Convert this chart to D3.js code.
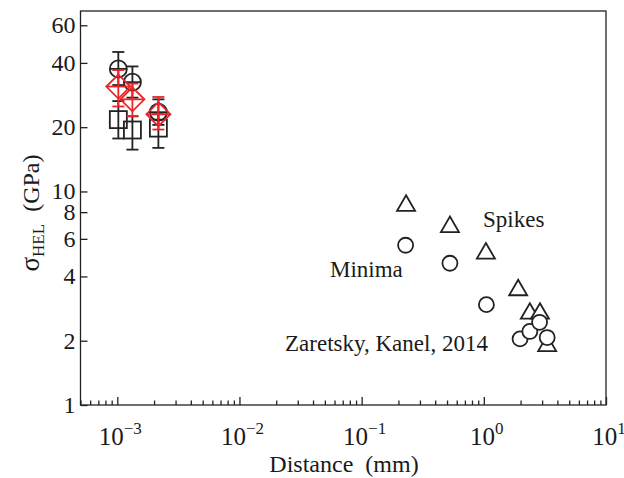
<!DOCTYPE html>
<html>
<head>
<meta charset="utf-8">
<script src="https://cdn.jsdelivr.net/npm/d3@7"></script>
<style>
  body { margin: 0; background: white; }
  svg text { font-family: "Liberation Serif", "Times New Roman", serif; fill: #1a1a1a; }
</style>
</head>
<body>
<svg id="chart" width="624" height="478"></svg>
<script>
// thin-film / short-distance data (three distances, three series with error bars)
const filmDist = [1.02e-3, 1.33e-3, 2.17e-3];
const circleVal = [37.5, 32.5, 23.5];
const circleLo = [31.5, 27.5, 20.5];
const circleHi = [45, 38.5, 27];
const diamondVal = [31, 27, 23];
const diamondLo = [25, 22.5, 19.5];
const diamondHi = [37, 32, 27.7];
const squareVal = [21.7, 19.4, 19.8];
const squareLo = [17.7, 15.7, 16];
const squareHi = [26.5, 22.5, 23];

// Zaretsky, Kanel 2014
const spikeDist = [0.231, 0.528, 1.04, 1.91, 2.38, 2.88, 3.3];
const spikeVal = [8.8, 7.0, 5.26, 3.54, 2.75, 2.75, 1.94];
const minDist = [0.229, 0.528, 1.05, 1.98, 2.38, 2.86, 3.3];
const minVal = [5.6, 4.61, 2.95, 2.04, 2.21, 2.44, 2.07];

const yTicks = [1, 2, 4, 6, 8, 10, 20, 40, 60];
const xMajor = [1e-3, 1e-2, 1e-1, 1, 10];
const xExp = ["\u22123", "\u22122", "\u22121", "0", "1"];

const svg = d3.select("#chart");
const margin = { top: 11, right: 18, bottom: 73, left: 80.5 };
const width = 624, height = 478;
const x = d3.scaleLog().domain([5e-4, 10]).range([margin.left, width - margin.right]);
const y = d3.scaleLog().domain([1, 70]).range([height - margin.bottom, margin.top]);

const xMinor = [];
for (let e = -4; e <= 0; e++) {
    for (let m = 2; m <= 9; m++) {
        const v = m * Math.pow(10, e);
        if (v >= 5e-4 && v <= 10) xMinor.push(v);
    }
}

// frame
svg.append("rect")
    .attr("x", margin.left).attr("y", margin.top)
    .attr("width", x.range()[1] - margin.left)
    .attr("height", y.range()[0] - margin.top)
    .attr("fill", "none").attr("stroke", "#222").attr("stroke-width", 1.3);

// axes with inward ticks
const bottom = y.range()[0];
svg.append("g")
    .attr("transform", `translate(0, ${bottom})`)
    .call(d3.axisBottom(x).tickValues(xMajor).tickSize(-8).tickFormat(""))
    .call(g => g.select(".domain").remove())
    .call(g => g.selectAll("line").attr("stroke", "#222").attr("stroke-width", 1.3));
svg.append("g")
    .attr("transform", `translate(0, ${bottom})`)
    .call(d3.axisBottom(x).tickValues(xMinor).tickSize(-4.5).tickFormat(""))
    .call(g => g.select(".domain").remove())
    .call(g => g.selectAll("line").attr("stroke", "#222").attr("stroke-width", 1.3));
svg.append("g")
    .attr("transform", `translate(${margin.left}, 0)`)
    .call(d3.axisLeft(y).tickValues(yTicks).tickSize(-7).tickFormat(""))
    .call(g => g.select(".domain").remove())
    .call(g => g.selectAll("line").attr("stroke", "#222").attr("stroke-width", 1.3));

// tick labels
svg.append("g").selectAll("text")
    .data(yTicks)
    .enter().append("text")
    .attr("x", margin.left - 5)
    .attr("y", d => y(d) + 8)
    .attr("text-anchor", "end")
    .style("font-size", "24px")
    .text(d => d);

const xl = svg.append("g").selectAll("text")
    .data(xMajor)
    .enter().append("text")
    .attr("x", d => x(d) + 3)
    .attr("y", 445)
    .attr("text-anchor", "middle")
    .style("font-size", "25px");
xl.append("tspan").text("10");
xl.append("tspan").attr("dy", -11).style("font-size", "17px").text((d, i) => xExp[i]);

// axis titles
svg.append("text")
    .attr("x", 344)
    .attr("y", 472)
    .attr("text-anchor", "middle")
    .style("font-size", "24px")
    .text("Distance\u2002(mm)");

const yt = svg.append("text")
    .attr("transform", "translate(39, 213) rotate(-90)")
    .attr("text-anchor", "middle")
    .style("font-size", "24px");
yt.append("tspan").style("font-size", "27px").text("\u03c3");
yt.append("tspan").attr("dy", 5).style("font-size", "17px").text("HEL");
yt.append("tspan").attr("dy", -5).text("\u2002(GPa)");

// error bars helper
function errorBars(vals, lo, hi, color) {
    const g = svg.append("g").attr("stroke", color).attr("stroke-width", 1.8).attr("fill", "none");
    filmDist.forEach((d, i) => {
        const cx = x(d);
        g.append("line").attr("x1", cx).attr("x2", cx).attr("y1", y(lo[i])).attr("y2", y(hi[i]));
        [lo[i], hi[i]].forEach(v => {
            g.append("line").attr("x1", cx - 6).attr("x2", cx + 6).attr("y1", y(v)).attr("y2", y(v));
        });
    });
}

// squares
errorBars(squareVal, squareLo, squareHi, "#222");
svg.append("g").selectAll("rect")
    .data(squareVal)
    .enter().append("rect")
    .attr("x", (d, i) => x(filmDist[i]) - 8.5)
    .attr("y", d => y(d) - 8.5)
    .attr("width", 17).attr("height", 17)
    .attr("fill", "none").attr("stroke", "#222").attr("stroke-width", 1.8);

// circles with horizontal bar
errorBars(circleVal, circleLo, circleHi, "#222");
const cg = svg.append("g").attr("stroke", "#222").attr("stroke-width", 1.8).attr("fill", "none");
circleVal.forEach((v, i) => {
    const cx = x(filmDist[i]), cy = y(v);
    cg.append("circle").attr("cx", cx).attr("cy", cy).attr("r", 8.5);
    cg.append("line").attr("x1", cx - 8.5).attr("x2", cx + 8.5).attr("y1", cy).attr("y2", cy);
});

// red diamonds with cross
errorBars(diamondVal, diamondLo, diamondHi, "#e8262a");
const dg = svg.append("g").attr("stroke", "#e8262a").attr("stroke-width", 1.8).attr("fill", "none");
diamondVal.forEach((v, i) => {
    const cx = x(filmDist[i]), cy = y(v);
    dg.append("path").attr("d", `M${cx},${cy - 12}L${cx + 12},${cy}L${cx},${cy + 12}L${cx - 12},${cy}Z`);
    dg.append("line").attr("x1", cx - 12).attr("x2", cx + 12).attr("y1", cy).attr("y2", cy);
});

// spikes: triangles
svg.append("g").selectAll("path")
    .data(spikeVal)
    .enter().append("path")
    .attr("d", (d, i) => {
        const cx = x(spikeDist[i]), cy = y(d);
        return `M${cx},${cy - 8}L${cx + 9},${cy + 7.5}L${cx - 9},${cy + 7.5}Z`;
    })
    .attr("fill", "white").attr("stroke", "#222").attr("stroke-width", 1.8)
    .attr("stroke-linejoin", "miter");

// minima: circles
svg.append("g").selectAll("circle")
    .data(minVal)
    .enter().append("circle")
    .attr("cx", (d, i) => x(minDist[i]))
    .attr("cy", d => y(d))
    .attr("r", 7.5)
    .attr("fill", "white").attr("stroke", "#222").attr("stroke-width", 1.8);

// annotations
svg.append("text").attr("x", 483).attr("y", 227).style("font-size", "23px").text("Spikes");
svg.append("text").attr("x", 330).attr("y", 277).style("font-size", "23px").text("Minima");
svg.append("text").attr("x", 285).attr("y", 351).style("font-size", "23px").text("Zaretsky, Kanel, 2014");
</script>
</body>
</html>
